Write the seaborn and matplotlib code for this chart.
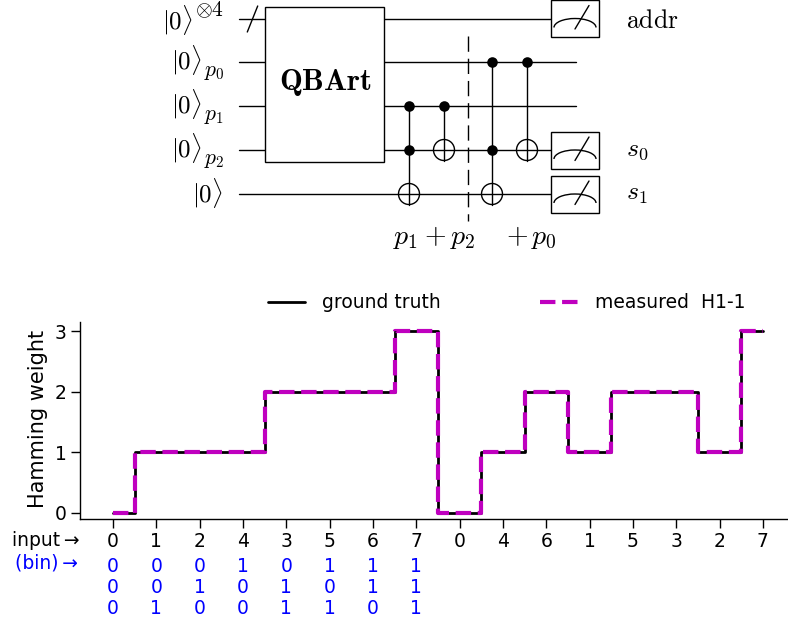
import matplotlib
matplotlib.use("Agg")
import matplotlib.pyplot as plt
import matplotlib.patches as mpatches
from matplotlib.transforms import blended_transform_factory
import numpy as np
import pandas as pd
import seaborn as sns

# chart data
input_labels = ["0", "1", "2", "4", "3", "5", "6", "7", "0", "4", "6", "1", "5", "3", "2", "7"]
ground_truth = [0, 1, 1, 1, 2, 2, 2, 3, 0, 1, 2, 1, 2, 2, 1, 3]
measured = [0, 1, 1, 1, 2, 2, 2, 3, 0, 1, 2, 1, 2, 2, 1, 3]
bin_rows = [
    ["0", "0", "0", "1", "0", "1", "1", "1"],
    ["0", "0", "1", "0", "1", "0", "1", "1"],
    ["0", "1", "0", "0", "1", "1", "0", "1"],
]
y_ticks = [0, 1, 2, 3]

# circuit layout, in pixels of the reference
wire_y = [18.5, 62, 106, 150, 194]
ket_right = [193, 202, 202, 202, 223]
ket_dy = [1.5, -2, -2, -2, -1]
script_labels = [r"$\otimes 4$", r"$p_0$", r"$p_1$", r"$p_2$", ""]
script_dy = [-8.5, 10, 10, 10, 0]
wire_ends = [551, 576, 576, 551, 551]
controls = [(409, [2, 3], 4), (444, [2], 3), (492, [1, 3], 4), (527, [1], 3)]
meter_wires = [0, 3, 4]
meter_labels = [r"$\mathrm{addr}$", r"$s_0$", r"$s_1$"]
meter_label_dy = [2, -1, -1]

W, H = 788, 626
INK = "#000000"
MAGENTA = "#bf00bf"
BLUE = "#0000ff"
sns.set_theme(style="ticks")
plt.rcParams["mathtext.fontset"] = "cm"
plt.rcParams["font.family"] = "DejaVu Sans"

fig = plt.figure(figsize=(W / 100, H / 100), dpi=100)
ax = fig.add_axes([80 / W, 1 - 519 / H, (W - 80) / W, (519 - 322) / H])
top = fig.add_axes([0, 0, 1, 1], zorder=-1)
top.set_xlim(0, W)
top.set_ylim(H, 0)
top.axis("off")

# step chart
df = pd.DataFrame({"pos": np.arange(len(input_labels)), "truth": ground_truth, "meas": measured})
sns.lineplot(data=df, x="pos", y="truth", ax=ax, color=INK, lw=2, drawstyle="steps-mid",
             label="ground truth", errorbar=None)
sns.lineplot(data=df, x="pos", y="meas", ax=ax, color=MAGENTA, lw=3, linestyle="--",
             drawstyle="steps-mid", label="measured  H1-1", errorbar=None)
ax.set_xlim(-0.76, 15.58)
ax.set_ylim(-0.107, 3.149)
ax.set_xticks(df["pos"])
ax.set_xticklabels(input_labels)
ax.set_yticks(y_ticks)
ax.tick_params(axis="both", labelsize=13.5, length=6.5, width=1, color=INK, labelcolor=INK, pad=3)
ax.set_xlabel("")
ax.set_ylabel("Hamming weight", fontsize=15, labelpad=5, color=INK, y=0.51)
for s in ["left", "bottom"]:
    ax.spines[s].set_linewidth(1)
    ax.spines[s].set_color(INK)
sns.despine(ax=ax)
ax.patch.set_alpha(0)
ax.legend(loc="lower left", bbox_to_anchor=(0.26, 1.03), ncol=2, frameon=False, fontsize=13.5,
          handlelength=2.0, columnspacing=5.3, handletextpad=0.9, borderpad=0.2,
          borderaxespad=0, labelcolor=INK)

# rows under the axis
trans = blended_transform_factory(ax.transData, top.transData)
for row, py in zip(bin_rows, [566.5, 587.5, 608.5]):
    for i, val in enumerate(row):
        top.text(i, py, val, transform=trans, color=BLUE, fontsize=13.5, ha="center", va="center")
top.text(80, 540, "input\u2009\u2192", color=INK, fontsize=13.5, ha="right", va="center")
top.text(78, 563, "(bin)\u2009\u2192", color=BLUE, fontsize=13.5, ha="right", va="center")

# circuit
lw = 1.0
for y, end, kr, kdy, sc, dy in zip(wire_y, wire_ends, ket_right, ket_dy, script_labels, script_dy):
    top.plot([239, end], [y, y], color=INK, lw=lw, zorder=1)
    top.text(kr, y + kdy, r"$|0\rangle$", fontsize=18, ha="right", va="center", color=INK)
    if sc:
        top.text(224, y + dy, sc, fontsize=15.5, ha="right", va="center", color=INK)
top.plot([247.3, 257.7], [32, 6], color=INK, lw=lw)
top.add_patch(mpatches.Rectangle((265.5, 6.5), 119, 155.5, fc="w", ec=INK, lw=lw, zorder=2))
top.text(325, 83, r"$\mathbf{QBArt}$", fontsize=22, ha="center", va="center", color=INK, zorder=3)
top.plot([468, 468], [36, 221], color=INK, lw=lw, dashes=(11, 5), zorder=1)

for x, ctrl, tgt in controls:
    ys = [wire_y[c] for c in ctrl]
    top.plot([x, x], [min(ys), wire_y[tgt] + 10.5], color=INK, lw=lw, zorder=3)
    top.scatter([x] * len(ys), ys, s=58, color=INK, linewidths=0, zorder=4)
    top.add_patch(mpatches.Circle((x, wire_y[tgt]), 10.5, fc="none", ec=INK, lw=lw, zorder=4))

for w, lab, ldy in zip(meter_wires, meter_labels, meter_label_dy):
    y = wire_y[w]
    top.add_patch(mpatches.Rectangle((551.5, y - 18.5), 47.5, 37, fc="w", ec=INK, lw=lw, zorder=3))
    top.add_patch(mpatches.Arc((575, y + 9), 42, 18, theta1=180, theta2=360, ec=INK, lw=lw, zorder=4))
    top.plot([575, 589], [y + 10.5, y - 13], color=INK, lw=lw, zorder=4)
    top.text(626, y + ldy, lab, fontsize=18.5, ha="left", va="center", color=INK)

top.text(393, 237, r"$p_1 + p_2$", fontsize=20, ha="left", va="center", color=INK)
top.text(506, 237, r"$+\, p_0$", fontsize=20, ha="left", va="center", color=INK)

fig.savefig("out.png", dpi=100)
